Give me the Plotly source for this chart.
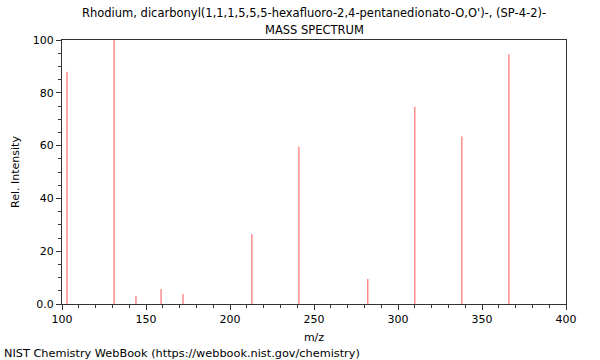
import plotly.graph_objects as go

mz = [103, 131, 144, 159, 172, 213, 241, 282, 310, 338, 366]
intensity = [88, 100, 3.0, 5.7, 3.8, 26.5, 59.6, 9.5, 74.7, 63.4, 94.6]
x_ticks = [100, 150, 200, 250, 300, 350, 400]
y_ticks = [0, 20, 40, 60, 80, 100]
y_tick_labels = ["0.0", "20", "40", "60", "80", "100"]

xs, ys = [], []
for m, v in zip(mz, intensity):
    xs += [m, m, None]
    ys += [0, v, None]

FONT = "DejaVu Sans"
fig = go.Figure()
fig.add_trace(go.Scatter(x=xs, y=ys, mode="lines",
                         line=dict(color="#ff8c8c", width=1.5),
                         hoverinfo="skip", showlegend=False))

axis_common = dict(showgrid=False, zeroline=False, showline=True, linecolor="#333333",
                   linewidth=1, mirror=True, ticks="outside", ticklen=5, tickcolor="#333333",
                   tickfont=dict(family=FONT, size=11, color="#000000"))
fig.update_xaxes(range=[100, 400], tickvals=x_ticks,
                 minor=dict(dtick=10, ticks="outside", ticklen=3, tickcolor="#333333"),
                 title=dict(text="m/z", font=dict(family=FONT, size=11, color="#000"), standoff=8),
                 **axis_common)
fig.update_yaxes(range=[0, 100], tickvals=y_ticks, ticktext=y_tick_labels,
                 minor=dict(dtick=5, ticks="outside", ticklen=3, tickcolor="#333333"),
                 title=dict(text="Rel. Intensity", font=dict(family=FONT, size=11, color="#000"), standoff=10),
                 **axis_common)

fig.update_layout(
    width=600, height=360,
    margin=dict(l=62, r=34, t=40, b=56),
    plot_bgcolor="white", paper_bgcolor="white",
    font=dict(family=FONT, size=11, color="#000"),
)

plot_h = 360 - 40 - 56
def py(pixel_y):
    return (360 - 56 - pixel_y) / plot_h

fig.add_annotation(text="Rhodium, dicarbonyl(1,1,1,5,5,5-hexafluoro-2,4-pentanedionato-O,O')-, (SP-4-2)-",
                   x=0.5, y=py(13), xref="paper", yref="paper", showarrow=False,
                   font=dict(family=FONT, size=11.5), yanchor="middle", xanchor="center")
fig.add_annotation(text="MASS SPECTRUM", x=0.5, y=py(30), xref="paper", yref="paper",
                   showarrow=False, font=dict(family=FONT, size=11.5), yanchor="middle", xanchor="center")
fig.add_annotation(text="NIST Chemistry WebBook (https://webbook.nist.gov/chemistry)",
                   x=(2 - 62) / 504, y=py(353), xref="paper", yref="paper", showarrow=False,
                   font=dict(family=FONT, size=11.3), yanchor="middle", xanchor="left")

fig.write_html("out.html", config={"displayModeBar": False},
               post_script="document.body.style.margin='0';")
